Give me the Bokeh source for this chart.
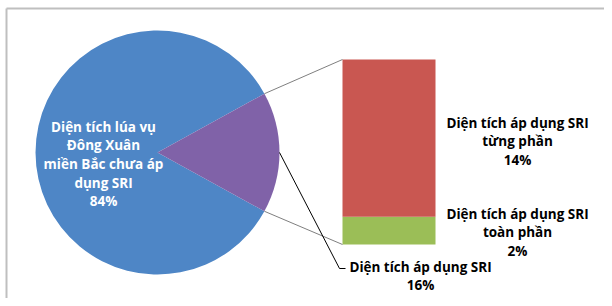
import math
from bokeh.plotting import figure
from bokeh.models import Range1d
from bokeh.core.properties import value
from bokeh.embed import file_html
from bokeh.resources import INLINE

# ---- data ----
pie_labels = ["Diện tích lúa vụ Đông Xuân miền Bắc chưa áp dụng SRI", "Diện tích áp dụng SRI"]
pie_values = [84, 16]
bar_labels = ["Diện tích áp dụng SRI toàn phần", "Diện tích áp dụng SRI từng phần"]
bar_values = [2.4, 13.6]
pie_colors = ["#4E86C6", "#8062A8"]
bar_colors = ["#9BBE57", "#C95751"]

lbl_main = ["Diện tích lúa vụ", "Đông Xuân", "miền Bắc chưa áp", "dụng SRI", "84%"]
lbl_tung = ["Diện tích áp dụng SRI", "từng phần", "14%"]
lbl_toan = ["Diện tích áp dụng SRI", "toàn phần", "2%"]
lbl_sri = ["Diện tích áp dụng SRI", "16%"]

W, H = 604, 298
p = figure(width=W, height=H, output_backend="svg", toolbar_location=None,
           x_range=Range1d(0, W), y_range=Range1d(0, H), min_border=0)
p.axis.visible = False
p.grid.visible = False
p.outline_line_color = None
p.background_fill_color = "white"

def Y(py):
    return H - py

# pie
cx, cy, r = 157, Y(152), 122
total = sum(pie_values)
half = math.pi * pie_values[1] / total
p.wedge(x=cx, y=cy, radius=r, start_angle=half, end_angle=2 * math.pi - half,
        color=pie_colors[0], line_color=None)
p.wedge(x=cx, y=cy, radius=r, start_angle=-half, end_angle=half,
        color=pie_colors[1], line_color=None)

# bar (stacked), scaled so the whole bar = pie_values[1]
bx0, bx1 = 342, 435
b_bottom, b_top = Y(244), Y(59)
scale = (b_top - b_bottom) / sum(bar_values)
acc = b_bottom
for v, c in zip(bar_values, bar_colors):
    p.quad(left=bx0, right=bx1, bottom=acc, top=acc + v * scale, color=c, line_color=None)
    acc += v * scale

# connector lines
vx = cx + r * math.cos(half)
p.line([vx, bx0], [cy + r * math.sin(half), b_top], line_color="#7F7F7F", line_width=1)
p.line([vx, bx0], [cy - r * math.sin(half), b_bottom], line_color="#7F7F7F", line_width=1)

# leader line
p.line([cx + r, 339, 345], [cy, Y(268), Y(268)], line_color="black", line_width=1)

# border (top & left)
p.line([6, W], [Y(8), Y(8)], line_color="#BFBFBF", line_width=2)
p.line([6, 6], [0, Y(8)], line_color="#BFBFBF", line_width=2)

font = value("Open Sans")

def block(lines, x, y0, color, step=18.7):
    ys = [Y(y0 + i * step) for i in range(len(lines))]
    p.text(x=[x] * len(lines), y=ys, text=lines, text_font=font, text_font_size="13.5px",
           text_font_style="bold", text_color=color, text_align="center",
           text_baseline="middle")

block(lbl_main, 103, 126, "white")
block(lbl_tung, 517, 122, "black")
block(lbl_toan, 517, 213, "black")
block(lbl_sri, 420, 266, "black")

open("out.html", "w").write(file_html(p, INLINE))
